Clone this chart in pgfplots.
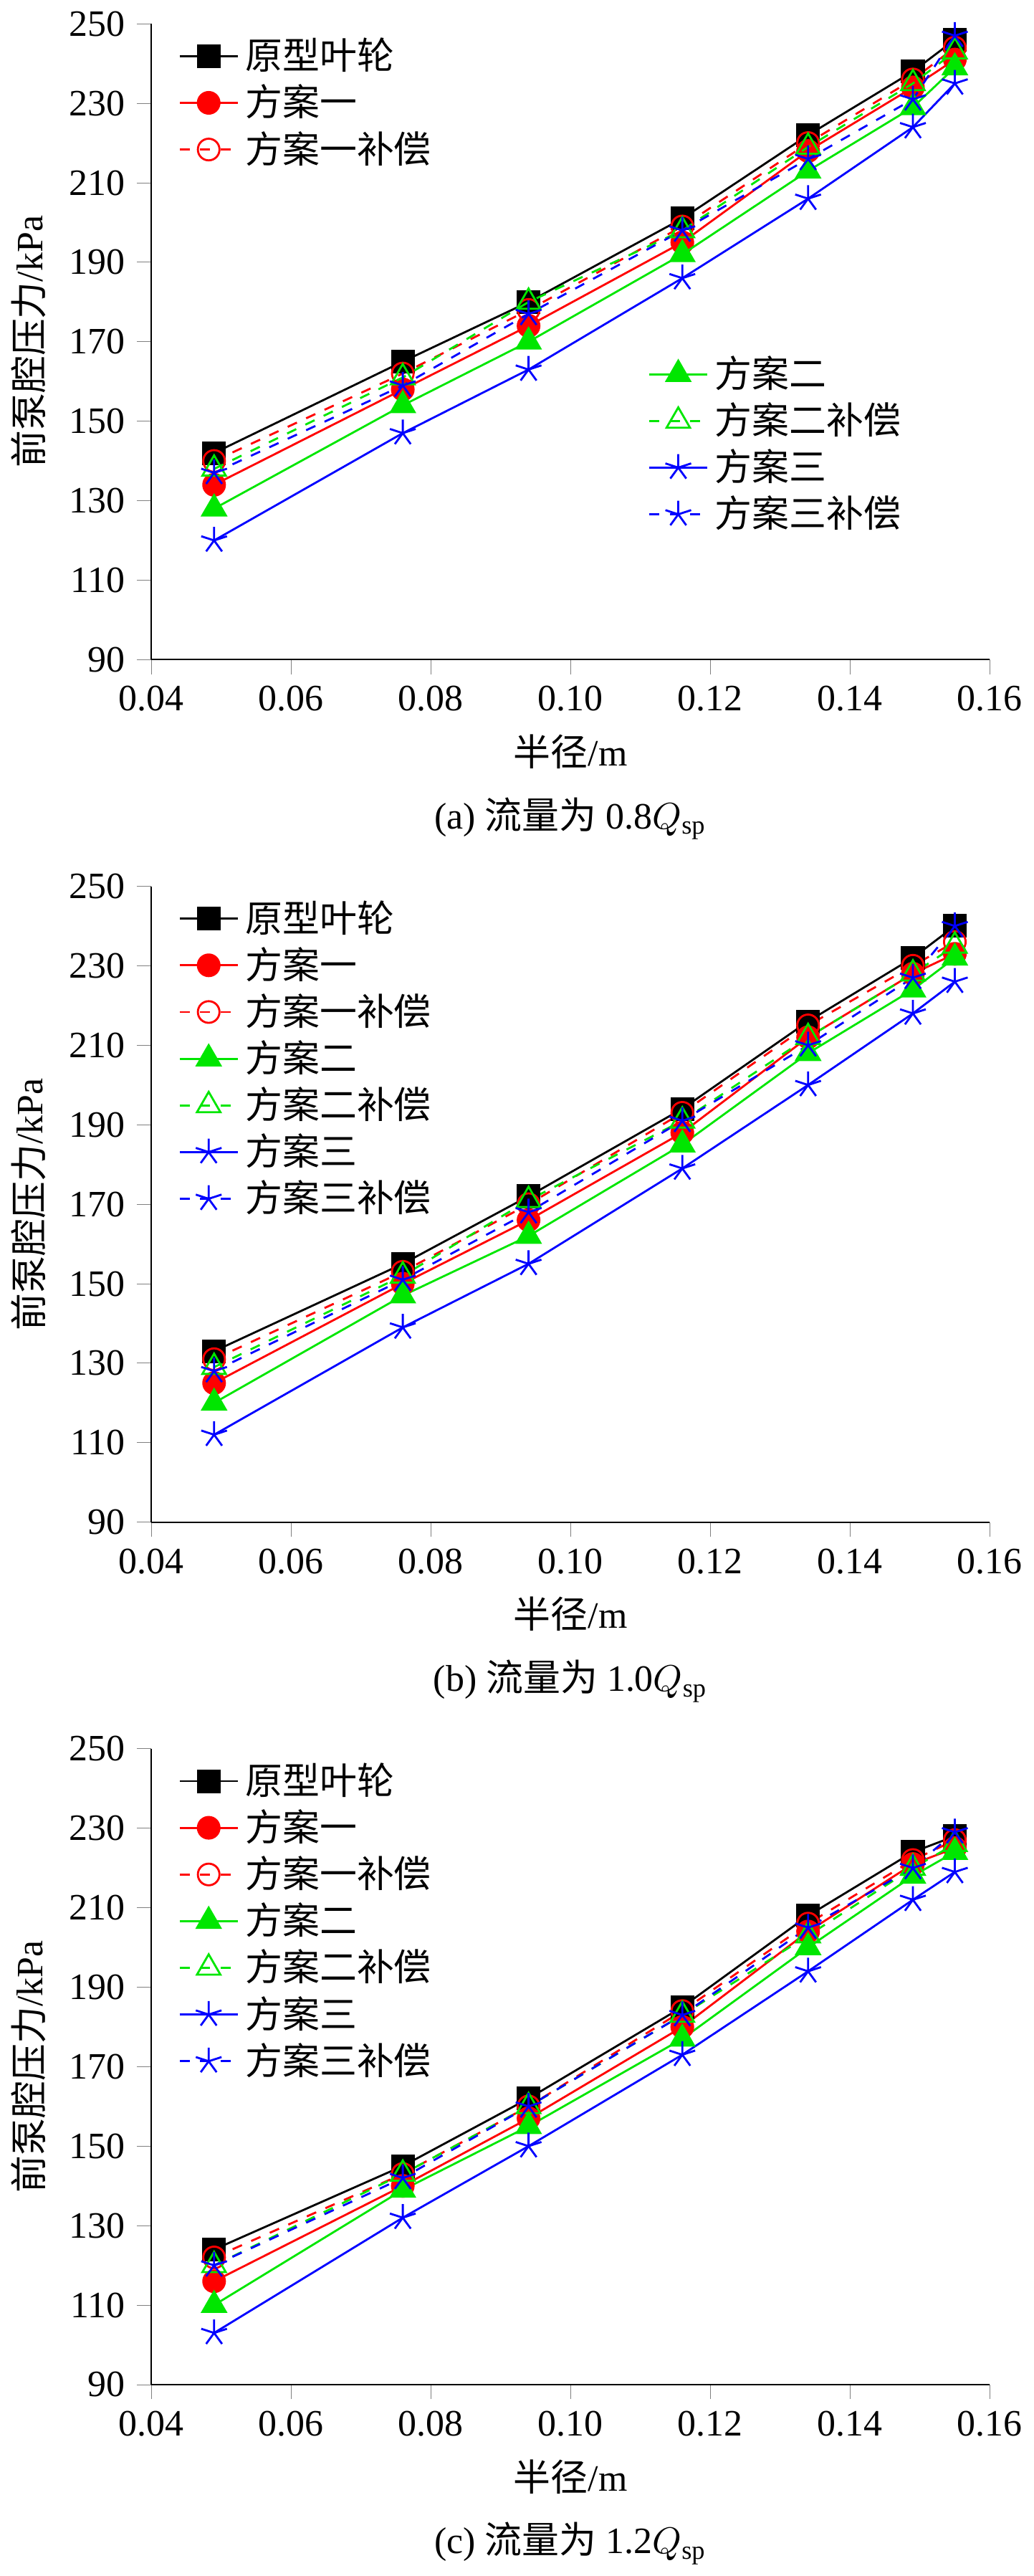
\documentclass[border=0pt]{standalone}
\usepackage{pgfplots}
\pgfplotsset{compat=1.18}
\usepackage{fontspec}
\setmainfont{Liberation Serif}
\newfontfamily\cjk{Noto Sans CJK SC}
\definecolor{cg}{RGB}{0,230,0}
\pgfplotsset{
 base/.style={scale only axis, width=248pt, height=188pt,
  xmin=0.04,xmax=0.16,ymin=90,ymax=250,
  xtick={0.04,0.06,...,0.16}, ytick={90,110,...,250},
  axis lines*=left, tick align=outside,
  xticklabel style={/pgf/number format/fixed,/pgf/number format/fixed zerofill,/pgf/number format/precision=2},
  /pgf/number format/assume math mode=true,
  tick label style={font=\fontsize{11}{13}\selectfont},
  label style={font=\fontsize{11}{13}\selectfont},
  xlabel={{\cjk 半径}/m}, ylabel={{\cjk 前泵腔压力}/kPa},
  legend cell align=left, legend style={draw=none,fill=none,font=\cjk\fontsize{11}{13}\selectfont,row sep=-1pt},
  every axis plot/.append style={mark size=3.2pt, line width=0.6pt}},
 s0/.style={black,mark=square*},
 s1/.style={red,mark=*},
 s2/.style={red,dashed,mark=o,mark options={solid}},
 s3/.style={cg,mark=triangle*,mark size=4pt},
 s4/.style={cg,dashed,mark=triangle,mark size=4pt,mark options={solid}},
 s5/.style={blue,mark=star,mark options={fill=blue},mark size=4pt},
 s6/.style={blue,dashed,mark=star,mark size=4pt,mark options={solid,fill=white}},
}
\begin{document}
\begin{tikzpicture}
% (a)
\begin{axis}[base, at={(0,0)}, legend style={at={(0.02,1)},anchor=north west}]
\addplot[s0] coordinates {(0.049,142)(0.076,165)(0.094,180)(0.116,201)(0.134,222)(0.149,238)(0.155,246)};
\addplot[s1] coordinates {(0.049,134)(0.076,158)(0.094,174)(0.116,195)(0.134,218)(0.149,234)(0.155,241)};
\addplot[s2] coordinates {(0.049,140)(0.076,162)(0.094,178)(0.116,199)(0.134,220)(0.149,236)(0.155,244)};
\legend{原型叶轮,方案一,方案一补偿}
\end{axis}
\begin{axis}[base, at={(0,0)}, axis lines=none, xlabel={}, ylabel={}, legend style={at={(0.58,0.5)},anchor=north west}]
\addplot[s3] coordinates {(0.049,128)(0.076,154)(0.094,170)(0.116,192)(0.134,213)(0.149,229)(0.155,239)};
\addplot[s4] coordinates {(0.049,138)(0.076,161)(0.094,180)(0.116,198)(0.134,219)(0.149,235)(0.155,243)};
\addplot[s5] coordinates {(0.049,120)(0.076,147)(0.094,163)(0.116,186)(0.134,206)(0.149,224)(0.155,235)};
\addplot[s6] coordinates {(0.049,137)(0.076,159)(0.094,177)(0.116,198)(0.134,216)(0.149,231)(0.155,247)};
\legend{方案二,方案二补偿,方案三,方案三补偿}
\end{axis}
\node[font=\fontsize{11}{13}\selectfont] at (124pt,-47pt) {(a) {\cjk 流量为} 0.8$Q_{\mathrm{sp}}$};
% (b)
\begin{axis}[base, at={(0,-255pt)}, legend style={at={(0.02,1)},anchor=north west}]
\addplot[s0] coordinates {(0.049,133)(0.076,155)(0.094,172)(0.116,194)(0.134,216)(0.149,232)(0.155,240)};
\addplot[s1] coordinates {(0.049,125)(0.076,150)(0.094,166)(0.116,188)(0.134,212)(0.149,228)(0.155,233)};
\addplot[s2] coordinates {(0.049,131)(0.076,153)(0.094,170)(0.116,193)(0.134,215)(0.149,230)(0.155,236)};
\addplot[s3] coordinates {(0.049,120)(0.076,147)(0.094,162)(0.116,185)(0.134,208)(0.149,224)(0.155,232)};
\addplot[s4] coordinates {(0.049,129)(0.076,152)(0.094,171)(0.116,191)(0.134,212)(0.149,228)(0.155,235)};
\addplot[s5] coordinates {(0.049,112)(0.076,139)(0.094,155)(0.116,179)(0.134,200)(0.149,218)(0.155,226)};
\addplot[s6] coordinates {(0.049,128)(0.076,151)(0.094,168)(0.116,191)(0.134,210)(0.149,227)(0.155,240)};
\legend{原型叶轮,方案一,方案一补偿,方案二,方案二补偿,方案三,方案三补偿}
\end{axis}
\node[font=\fontsize{11}{13}\selectfont] at (124pt,-302pt) {(b) {\cjk 流量为} 1.0$Q_{\mathrm{sp}}$};
% (c)
\begin{axis}[base, at={(0,-510pt)}, legend style={at={(0.02,1)},anchor=north west}]
\addplot[s0] coordinates {(0.049,124)(0.076,145)(0.094,162)(0.116,185)(0.134,208)(0.149,224)(0.155,228)};
\addplot[s1] coordinates {(0.049,116)(0.076,140)(0.094,157)(0.116,180)(0.134,204)(0.149,221)(0.155,225)};
\addplot[s2] coordinates {(0.049,122)(0.076,143)(0.094,160)(0.116,184)(0.134,206)(0.149,222)(0.155,227)};
\addplot[s3] coordinates {(0.049,110)(0.076,139)(0.094,155)(0.116,177)(0.134,200)(0.149,218)(0.155,224)};
\addplot[s4] coordinates {(0.049,120)(0.076,143)(0.094,160)(0.116,183)(0.134,203)(0.149,220)(0.155,226)};
\addplot[s5] coordinates {(0.049,103)(0.076,132)(0.094,150)(0.116,173)(0.134,194)(0.149,212)(0.155,219)};
\addplot[s6] coordinates {(0.049,120)(0.076,142)(0.094,160)(0.116,183)(0.134,205)(0.149,220)(0.155,229)};
\legend{原型叶轮,方案一,方案一补偿,方案二,方案二补偿,方案三,方案三补偿}
\end{axis}
\node[font=\fontsize{11}{13}\selectfont] at (124pt,-557pt) {(c) {\cjk 流量为} 1.2$Q_{\mathrm{sp}}$};
\end{tikzpicture}
\end{document}
